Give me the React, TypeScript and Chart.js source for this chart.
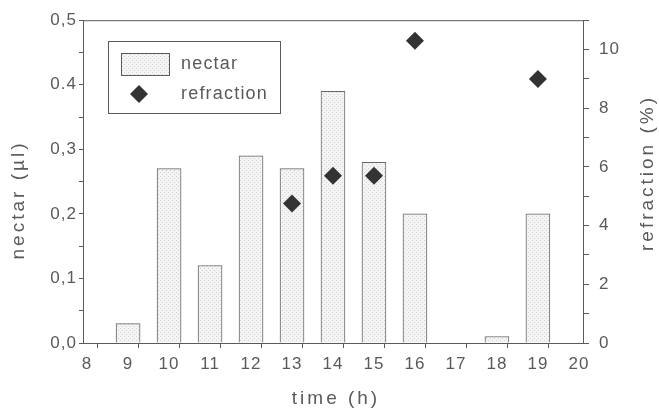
import React, { useEffect, useRef } from 'react';
import { Chart, registerables } from 'chart.js';
Chart.register(...registerables);

const hours = [9, 10, 11, 12, 13, 14, 15, 16, 18, 19];
const nectar = [0.03, 0.27, 0.12, 0.29, 0.27, 0.39, 0.28, 0.2, 0.01, 0.2];
const refractionHours = [13, 14, 15, 16, 19];
const refraction = [4.75, 5.7, 5.7, 10.3, 9.0];
const xTickLabels = ['8', '9', '10', '11', '12', '13', '14', '15', '16', '17', '18', '19', '20'];
const nectarTickLabels = ['0,0', '0,1', '0,2', '0,3', '0.4', '0,5'];
const refractionTickLabels = ['0', '2', '4', '6', '8', '10'];

const FONT = "'Liberation Sans', Arial, sans-serif";
const INK = '#5a5a5a';

export default function App() {
  const ref = useRef<HTMLCanvasElement | null>(null);
  useEffect(() => {
    const canvas = ref.current!;
    const ctx = canvas.getContext('2d')!;
    const pc = document.createElement('canvas');
    pc.width = 4; pc.height = 4;
    const g = pc.getContext('2d')!;
    g.fillStyle = '#f4f4f4'; g.fillRect(0, 0, 4, 4);
    g.fillStyle = '#d2d2d2'; g.fillRect(0, 0, 1, 1); g.fillRect(2, 2, 1, 1);
    const pattern = ctx.createPattern(pc, 'repeat')!;

    const decor = {
      id: 'decor',
      beforeLayout(chart: any) { (chart.ctx as any).letterSpacing = '1px'; },
      beforeDraw(chart: any) { (chart.ctx as any).letterSpacing = '1px'; },
      afterDraw(chart: any) {
        const c = chart.ctx;
        const a = chart.chartArea;
        c.save();
        c.strokeStyle = INK; c.lineWidth = 1;
        c.beginPath(); c.moveTo(a.left, a.top + 0.5); c.lineTo(a.right, a.top + 0.5); c.stroke();
        // legend
        c.strokeRect(108.5, 41.5, 172, 72);
        c.fillStyle = pattern; c.fillRect(121, 53, 48, 22);
        c.strokeRect(121.5, 53.5, 48, 22);
        c.fillStyle = '#333';
        c.beginPath(); c.moveTo(139, 85); c.lineTo(148, 94); c.lineTo(139, 103); c.lineTo(130, 94); c.closePath(); c.fill();
        c.fillStyle = INK; c.font = `18px ${FONT}`; c.textBaseline = 'middle'; c.textAlign = 'left';
        (c as any).letterSpacing = '1.2px';
        c.fillText('nectar', 181, 64);
        c.fillText('refraction', 181, 94);
        // axis titles
        c.font = `19px ${FONT}`;
        (c as any).letterSpacing = '3px';
        c.textAlign = 'center';
        c.save(); c.translate(19, 200); c.rotate(-Math.PI / 2); c.fillText('nectar (µl)', 0, 0); c.restore();
        c.save(); c.translate(648, 173); c.rotate(-Math.PI / 2); c.fillText('refraction (%)', 0, 0); c.restore();
        c.fillText('time (h)', 336, 399);
        c.restore();
      },
    };

    const tickFont = { family: FONT, size: 17 };
    const chart = new Chart(ctx, {
      type: 'bar',
      data: {
        datasets: [
          {
            type: 'bar',
            label: 'nectar',
            data: hours.map((h, i) => ({ x: h, y: nectar[i] })),
            backgroundColor: pattern,
            borderColor: '#666',
            borderWidth: 1,
            barThickness: 24,
            yAxisID: 'y',
            order: 2,
          } as any,
          {
            type: 'scatter',
            label: 'refraction',
            data: refractionHours.map((h, i) => ({ x: h, y: refraction[i] })),
            pointStyle: 'rectRot',
            pointRadius: 9,
            backgroundColor: '#333',
            borderColor: '#333',
            borderWidth: 0,
            yAxisID: 'y2',
            order: 1,
          } as any,
        ],
      },
      options: {
        responsive: false,
        animation: false,
        layout: { padding: { top: 20, left: 0, right: 0, bottom: 0 } },
        plugins: { legend: { display: false }, tooltip: { enabled: false } },
        scales: {
          x: {
            type: 'linear',
            min: 7.9,
            max: 20.1,
            offset: false,
            afterFit: (s: any) => { s.height = 69; },
            grid: {
              drawOnChartArea: false,
              tickLength: 5,
              tickColor: (c: any) => (c.tick && Number.isInteger(c.tick.value) ? 'rgba(0,0,0,0)' : INK),
            },
            border: { display: true, color: INK, width: 1 },
            ticks: {
              stepSize: 0.5,
              includeBounds: false,
              autoSkip: false,
              maxRotation: 0,
              color: INK,
              font: tickFont,
              padding: 6,
              callback: (v: any) => {
                const n = Number(v);
                if (Math.abs(n - Math.round(n)) < 1e-6) return xTickLabels[Math.round(n) - 8] ?? '';
                return '';
              },
            },
          },
          y: {
            type: 'linear',
            position: 'left',
            min: 0,
            max: 0.5,
            afterFit: (s: any) => { s.width = 83; },
            grid: { drawOnChartArea: false, tickLength: 4, tickColor: INK },
            border: { display: true, color: INK, width: 1 },
            ticks: {
              stepSize: 0.05,
              autoSkip: false,
              color: INK,
              font: tickFont,
              padding: 2,
              callback: (v: any) => {
                const k = Math.round(Number(v) * 100);
                if (k % 10 === 0) return nectarTickLabels[k / 10] ?? '';
                return '';
              },
            },
          },
          y2: {
            type: 'linear',
            position: 'right',
            min: 0,
            max: 11,
            afterFit: (s: any) => { s.width = 76; },
            grid: { drawOnChartArea: false, tickLength: 6, tickColor: INK },
            border: { display: true, color: INK, width: 1 },
            ticks: {
              stepSize: 1,
              autoSkip: false,
              color: INK,
              font: tickFont,
              padding: 10,
              callback: (v: any) => {
                const n = Math.round(Number(v));
                if (n % 2 === 0) return refractionTickLabels[n / 2] ?? '';
                return '';
              },
            },
          },
        },
      },
      plugins: [decor],
    });
    return () => chart.destroy();
  }, []);
  return (
    <div style={{ position: 'fixed', left: 0, top: 0, width: 659, height: 412, background: '#fff' }}>
      <canvas ref={ref} width={659} height={412} />
    </div>
  );
}
